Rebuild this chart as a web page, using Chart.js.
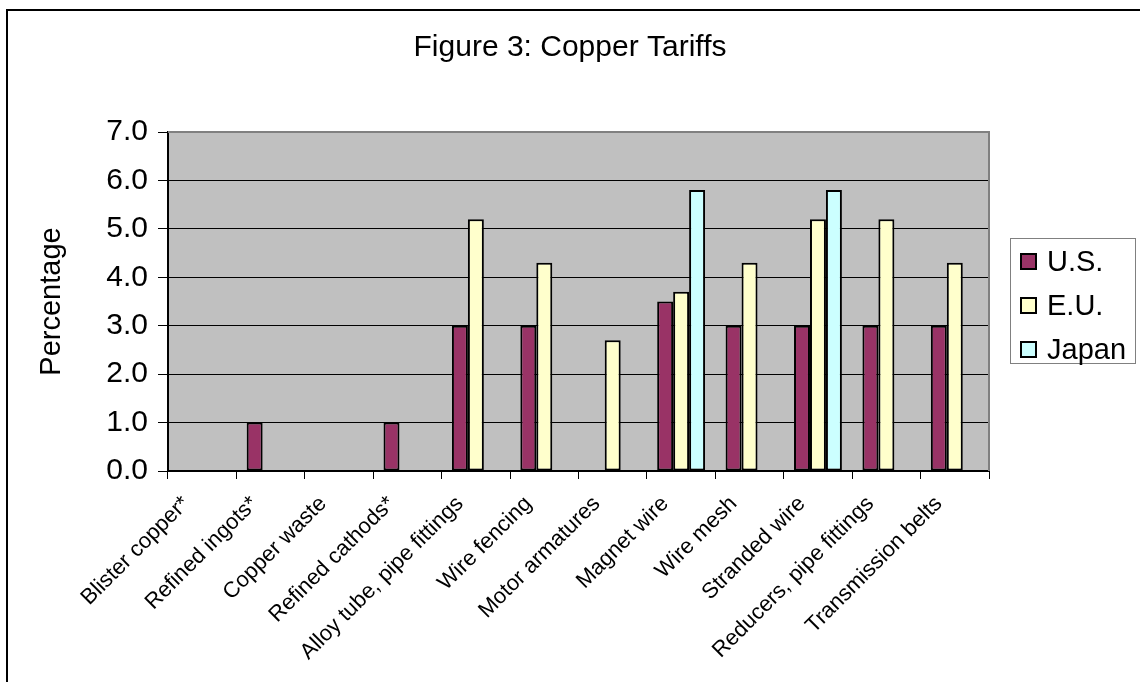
<!DOCTYPE html>
<html>
<head>
<meta charset="utf-8">
<script src="https://cdn.jsdelivr.net/npm/chart.js@4/dist/chart.umd.min.js"></script>
<style>
    html, body { margin: 0; padding: 0; background: #fff; }
    #wrap { position: relative; width: 1140px; height: 682px; overflow: hidden; }
    #legend {
        position: absolute; left: 1010px; top: 238px; width: 126px; height: 126px;
        border: 1px solid #808080; box-sizing: border-box; background: #fff;
        padding-top: 8px; font: 29px "Liberation Sans", Arial, sans-serif; color: #000;
    }
    .leg-row { display: flex; align-items: center; height: 28px; margin-bottom: 16px; padding-left: 9px; }
    .leg-box { width: 17px; height: 17px; border: 2px solid #000; box-sizing: border-box; margin-right: 10px; }
</style>
</head>
<body>
<div id="wrap">
    <canvas id="chart" width="1140" height="682"></canvas>
    <div id="legend"></div>
</div>
<script>
const categories = [
    'Blister copper*', 'Refined ingots*', 'Copper waste', 'Refined cathods*',
    'Alloy tube, pipe fittings', 'Wire fencing', 'Motor armatures', 'Magnet wire',
    'Wire mesh', 'Stranded wire', 'Reducers, pipe fittings', 'Transmission belts'
];
const usValues    = [0, 1.0, 0, 1.0, 3.0, 3.0, 0,   3.5, 3.0, 3.0, 3.0, 3.0];
const euValues    = [0, 0,   0, 0,   5.2, 4.3, 2.7, 3.7, 4.3, 5.2, 5.2, 4.3];
const japanValues = [0, 0,   0, 0,   0,   0,   0,   5.8, 0,   5.8, 0,   0];
const seriesNames = ['U.S.', 'E.U.', 'Japan'];
const seriesColors = ['#993366', '#FFFFCC', '#CCFFFF'];
const yTicks = [0, 1, 2, 3, 4, 5, 6, 7];

const FONT = '"Liberation Sans", Arial, sans-serif';

// grey plot area, border lines and outer frame
const excelLook = {
    id: 'excelLook',
    beforeDraw(chart) {
        const { ctx, chartArea: a } = chart;
        ctx.save();
        ctx.fillStyle = '#C0C0C0';
        ctx.fillRect(a.left, a.top, a.right - a.left, a.bottom - a.top);
        ctx.restore();
    },
    afterDraw(chart) {
        const { ctx, chartArea: a } = chart;
        ctx.save();
        ctx.strokeStyle = '#808080';
        ctx.lineWidth = 2;
        ctx.beginPath();
        ctx.moveTo(a.left, a.top);
        ctx.lineTo(a.right, a.top);
        ctx.lineTo(a.right, a.bottom);
        ctx.stroke();
        ctx.strokeStyle = '#000';
        ctx.lineWidth = 2;
        ctx.strokeRect(7, 10, 2000, 2000);
        ctx.restore();
    }
};

const datasets = [usValues, euValues, japanValues].map((vals, i) => ({
    label: seriesNames[i],
    data: vals,
    backgroundColor: seriesColors[i],
    borderColor: '#000',
    borderWidth: 2,
    borderSkipped: false,
    barPercentage: 1,
    categoryPercentage: 0.7
}));

const myChart = new Chart(document.getElementById('chart'), {
    type: 'bar',
    data: { labels: categories, datasets },
    plugins: [excelLook],
    options: {
        responsive: false,
        animation: false,
        layout: { padding: 0 },
        plugins: {
            legend: { display: false },
            tooltip: { enabled: false },
            title: {
                display: true,
                text: 'Figure 3: Copper Tariffs',
                color: '#000',
                font: { family: FONT, size: 30, weight: 'normal' },
                padding: { top: 30, bottom: 66 }
            }
        },
        scales: {
            x: {
                grid: { offset: true, drawOnChartArea: false, color: '#000', tickLength: 8 },
                border: { color: '#000', width: 2 },
                ticks: {
                    color: '#000', font: { family: FONT, size: 22 },
                    minRotation: 45, maxRotation: 45, autoSkip: false,
                    padding: 12, labelOffset: -16
                },
                afterFit(scale) { scale.height = 211; }
            },
            y: {
                min: 0, max: 7,
                afterBuildTicks(scale) { scale.ticks = yTicks.map(v => ({ value: v })); },
                grid: { color: '#000', lineWidth: 1, tickLength: 10 },
                border: { color: '#000', width: 2 },
                ticks: {
                    color: '#000', font: { family: FONT, size: 30 }, padding: 10,
                    callback: v => Number(v).toFixed(1)
                },
                title: {
                    display: true, text: 'Percentage', color: '#000',
                    font: { family: FONT, size: 29 }, padding: { top: 35, bottom: 0 }
                },
                afterFit(scale) { scale.width = 168; }
            },
            // empty room on the right for the legend box
            side: {
                position: 'right',
                grid: { display: false },
                border: { display: false },
                ticks: { display: false },
                afterFit(scale) { scale.width = 151; }
            }
        }
    }
});

// legend in the Excel style box
const legend = document.getElementById('legend');
myChart.data.datasets.forEach(ds => {
    const row = document.createElement('div');
    row.className = 'leg-row';
    row.innerHTML = `<span class="leg-box" style="background:${ds.backgroundColor}"></span><span>${ds.label}</span>`;
    legend.appendChild(row);
});
</script>
</body>
</html>
